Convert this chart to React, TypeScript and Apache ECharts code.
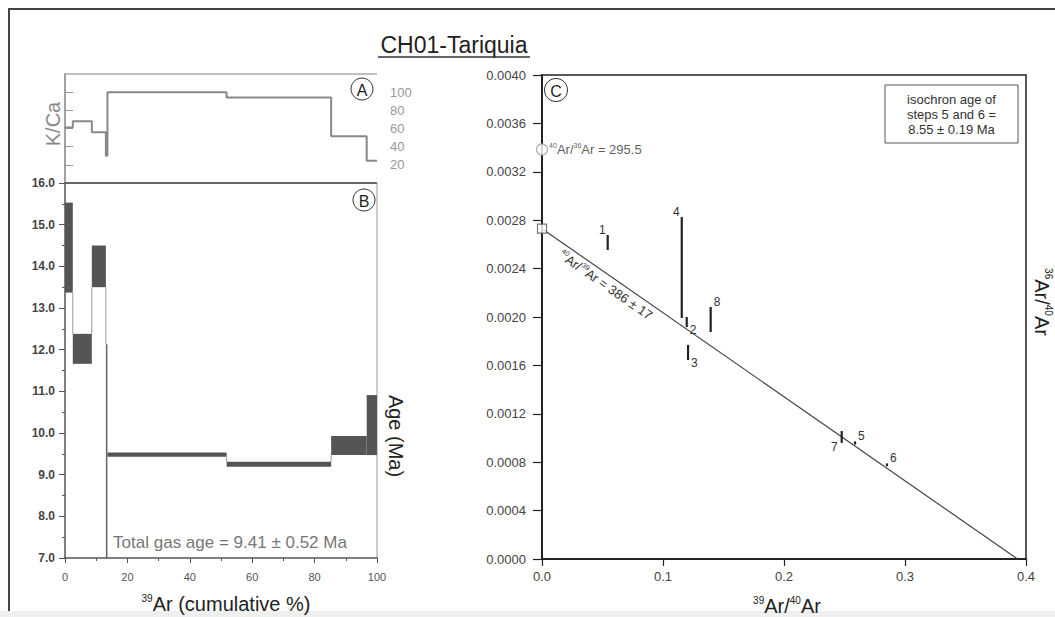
import React, { useEffect, useRef } from "react";
import * as echarts from "echarts";

// ---------- Data ----------
// Step-heating steps (cumulative 39Ar %)
const stepStart = [0, 2.5, 8.6, 13.1, 13.6, 51.8, 85.3, 96.7];
const stepEnd = [2.5, 8.6, 13.1, 13.6, 51.8, 85.3, 96.7, 100];
const stepAge = [14.45, 12.02, 14.0, 9.4, 9.48, 9.25, 9.7, 10.19];
const stepAgeErr = [1.08, 0.36, 0.5, 2.73, 0.05, 0.06, 0.23, 0.72];
const stepKCa = [61, 68, 56, 30, 100, 94, 51.5, 24.5];
const kcaTicks = [20, 40, 60, 80, 100];

// Isochron points (39Ar/40Ar, 36Ar/40Ar low/high)
const isoStep = ["1", "2", "3", "4", "5", "6", "7", "8"];
const isoX = [0.0543, 0.1196, 0.1207, 0.1155, 0.2587, 0.2851, 0.2477, 0.1394];
const isoYLow = [0.002554, 0.001917, 0.001645, 0.001992, 0.000946, 0.000766, 0.000959, 0.001876];
const isoYHigh = [0.002678, 0.002, 0.001769, 0.002826, 0.000972, 0.00079, 0.001058, 0.002083];
const isoLabelSide = ["tl", "br", "br", "tl", "tr", "tr", "bl", "tr"];

const atmRatio = 295.5;
const isochronY0 = 0.00273;
const isochronX0 = 0.393;

const FF = "'Liberation Sans', Arial, Helvetica, sans-serif";

const supRich = (base: number, sup: number, color: string) => ({
  b: { fontSize: base, fontFamily: FF, color, lineHeight: base + 2 },
  s: { fontSize: sup, fontFamily: FF, color, verticalAlign: "top" as const },
});
const gRich = (base: number, sup: number, color: string) => ({
  b: { fontSize: base, fontFamily: FF, fill: color, lineHeight: base + 2 },
  s: { fontSize: sup, fontFamily: FF, fill: color, verticalAlign: "top" as const },
});

function buildOption(): any {
  const kcaData: number[][] = [];
  stepStart.forEach((s, i) => {
    kcaData.push([s, stepKCa[i]], [stepEnd[i], stepKCa[i]]);
  });
  const spectrumData = stepStart.map((s, i) => [s, stepEnd[i], stepAge[i], stepAgeErr[i]]);
  const isoData = isoX.map((x, i) => [x, isoYLow[i], isoYHigh[i]]);

  const circleLabel = (cx: number, cy: number, r: number, t: string) => ({
    type: "group",
    children: [
      { type: "circle", shape: { cx, cy, r }, style: { fill: "#fff", stroke: "#333", lineWidth: 1 } },
      {
        type: "text",
        x: cx,
        y: cy + 1,
        style: { text: t, fontSize: 16, fontFamily: FF, fill: "#222", align: "center", verticalAlign: "middle" },
      },
    ],
  });

  return {
    animation: false,
    backgroundColor: "#fff",
    textStyle: { fontFamily: FF },
    grid: [
      { left: 65, top: 74, width: 312, height: 109 },
      { left: 65, top: 183, width: 312, height: 375 },
      { left: 542, top: 75, width: 484, height: 484 },
    ],
    xAxis: [
      { gridIndex: 0, type: "value", min: 0, max: 100, show: false },
      {
        gridIndex: 1,
        type: "value",
        min: 0,
        max: 100,
        interval: 20,
        axisLine: { show: true, lineStyle: { color: "#555", width: 1.5 } },
        axisTick: { show: true, length: 5, lineStyle: { color: "#555" } },
        minorTick: { show: true, splitNumber: 2, length: 3, lineStyle: { color: "#555" } },
        axisLabel: { color: "#555", fontSize: 11, margin: 13, fontFamily: FF },
        splitLine: { show: false },
      },
      {
        gridIndex: 2,
        type: "value",
        min: 0,
        max: 0.4,
        interval: 0.1,
        axisLine: { show: true, lineStyle: { color: "#222", width: 2 } },
        axisTick: { show: true, length: 7, lineStyle: { color: "#222", width: 1.2 } },
        axisLabel: { color: "#444", fontSize: 13, margin: 11, fontFamily: FF, formatter: (v: number) => v.toFixed(1) },
        splitLine: { show: false },
      },
    ],
    yAxis: [
      {
        gridIndex: 0,
        type: "value",
        position: "right",
        min: 0,
        max: 120,
        interval: 20,
        axisLine: { show: true, lineStyle: { color: "#999", width: 1.5 } },
        axisTick: { show: true, length: 8, customValues: kcaTicks, lineStyle: { color: "#999" } },
        axisLabel: { customValues: kcaTicks, color: "#999", fontSize: 13, margin: 13, fontFamily: FF },
        splitLine: { show: false },
      },
      {
        gridIndex: 1,
        type: "value",
        min: 7,
        max: 16,
        interval: 1,
        axisLine: { show: true, lineStyle: { color: "#555", width: 1.5 } },
        axisTick: { show: true, length: 6, lineStyle: { color: "#555" } },
        minorTick: { show: true, splitNumber: 2, length: 3, lineStyle: { color: "#555" } },
        axisLabel: {
          color: "#444",
          fontSize: 12,
          fontWeight: "bold",
          margin: 10,
          fontFamily: FF,
          formatter: (v: number) => v.toFixed(1),
        },
        splitLine: { show: false },
      },
      {
        gridIndex: 2,
        type: "value",
        min: 0,
        max: 0.004,
        interval: 0.0004,
        axisLine: { show: true, lineStyle: { color: "#222", width: 2 } },
        axisTick: { show: true, length: 9, lineStyle: { color: "#222", width: 1.2 } },
        axisLabel: { color: "#444", fontSize: 13, margin: 16, fontFamily: FF, formatter: (v: number) => v.toFixed(4) },
        splitLine: { show: false },
      },
    ],
    series: [
      {
        type: "line",
        xAxisIndex: 0,
        yAxisIndex: 0,
        data: kcaData,
        symbol: "none",
        lineStyle: { color: "#888", width: 2 },
        z: 3,
      },
      {
        type: "custom",
        xAxisIndex: 1,
        yAxisIndex: 1,
        clip: true,
        data: spectrumData,
        renderItem: (params: any, api: any) => {
          const i = params.dataIndex;
          const x0 = api.value(0);
          const x1 = api.value(1);
          const a = api.value(2);
          const e = api.value(3);
          const p0 = api.coord([x0, a + e]);
          const p1 = api.coord([x1, a - e]);
          const children: any[] = [
            {
              type: "rect",
              shape: { x: p0[0], y: p0[1], width: p1[0] - p0[0], height: p1[1] - p0[1] },
              style: { fill: i === 3 ? "#666" : "#555" },
            },
          ];
          if (i > 0) {
            const pt = stepAge[i - 1] + stepAgeErr[i - 1];
            const pb = stepAge[i - 1] - stepAgeErr[i - 1];
            const ct = a + e;
            const cb = a - e;
            let from: number | null = null;
            let to: number | null = null;
            if (ct < pb) {
              from = pb;
              to = ct;
            } else if (cb > pt) {
              from = pt;
              to = cb;
            }
            if (from !== null && to !== null) {
              const q0 = api.coord([x0, from]);
              const q1 = api.coord([x0, to]);
              children.push({
                type: "line",
                shape: { x1: q0[0], y1: q0[1], x2: q1[0], y2: q1[1] },
                style: { stroke: "#999", lineWidth: 1 },
              });
            }
          }
          return { type: "group", children };
        },
      },
      {
        type: "line",
        xAxisIndex: 2,
        yAxisIndex: 2,
        data: [
          [0, isochronY0],
          [isochronX0, 0],
        ],
        symbol: "none",
        lineStyle: { color: "#444", width: 1.2 },
        z: 2,
      },
      {
        type: "custom",
        xAxisIndex: 2,
        yAxisIndex: 2,
        data: [[isochronX0, isochronY0]],
        renderItem: (params: any, api: any) => {
          const p0 = api.coord([0, api.value(1)]);
          const p1 = api.coord([api.value(0), 0]);
          const ang = Math.atan2(p1[1] - p0[1], p1[0] - p0[0]);
          const t = 0.146;
          const off = 10;
          const cx = p0[0] + (p1[0] - p0[0]) * t - Math.sin(ang) * off;
          const cy = p0[1] + (p1[1] - p0[1]) * t + Math.cos(ang) * off;
          return {
            type: "text",
            x: cx,
            y: cy,
            rotation: -ang,
            style: {
              text: "{s|40}{b|Ar/}{s|39}{b|Ar = 386 ± 17}",
              rich: gRich(13, 7, "#333"),
              fill: "#333",
              align: "center",
              verticalAlign: "middle",
            },
          };
        },
      },
      {
        type: "custom",
        xAxisIndex: 2,
        yAxisIndex: 2,
        data: isoData,
        z: 5,
        renderItem: (params: any, api: any) => {
          const i = params.dataIndex;
          const top = api.coord([api.value(0), api.value(2)]);
          const bot = api.coord([api.value(0), api.value(1)]);
          const side = isoLabelSide[i];
          let lx = top[0];
          let ly = top[1];
          let align = "left";
          let va = "bottom";
          if (side === "tl") {
            lx = top[0] - 2;
            ly = top[1] + 1;
            align = "right";
            va = "bottom";
          } else if (side === "tr") {
            lx = top[0] + 3;
            ly = top[1] + 1;
            align = "left";
            va = "bottom";
          } else if (side === "br") {
            lx = bot[0] + 3;
            ly = bot[1] - 3;
            align = "left";
            va = "top";
          } else {
            lx = bot[0] - 4;
            ly = bot[1] - 2;
            align = "right";
            va = "top";
          }
          return {
            type: "group",
            children: [
              {
                type: "line",
                shape: { x1: top[0], y1: top[1], x2: bot[0], y2: bot[1] },
                style: { stroke: "#222", lineWidth: 2.2 },
              },
              {
                type: "text",
                x: lx,
                y: ly,
                style: { text: isoStep[i], fontSize: 12, fontFamily: FF, fill: "#333", align, verticalAlign: va },
              },
            ],
          };
        },
      },
      {
        type: "scatter",
        xAxisIndex: 2,
        yAxisIndex: 2,
        clip: false,
        data: [[0, 1 / atmRatio]],
        symbol: "circle",
        symbolSize: 11,
        itemStyle: { color: "#fff", borderColor: "#999", borderWidth: 1.2 },
        label: {
          show: true,
          position: "right",
          distance: 1,
          formatter: "{s|40}{b|Ar/}{s|36}{b|Ar = " + atmRatio.toFixed(1) + "}",
          rich: supRich(13, 7, "#333"),
        },
        z: 6,
      },
      {
        type: "scatter",
        xAxisIndex: 2,
        yAxisIndex: 2,
        clip: false,
        data: [[0, isochronY0]],
        symbol: "rect",
        symbolSize: 9,
        itemStyle: { color: "#fff", borderColor: "#555", borderWidth: 1.2 },
        z: 6,
      },
    ],
    graphic: [
      {
        type: "rect",
        shape: { x: 9, y: 9, width: 1100, height: 700 },
        style: { fill: "none", stroke: "#444", lineWidth: 2 },
        silent: true,
      },
      {
        type: "rect",
        shape: { x: 0, y: 611, width: 1055, height: 6 },
        style: { fill: "#efefef" },
        silent: true,
      },
      {
        type: "polyline",
        shape: {
          points: [
            [65, 183],
            [65, 74],
            [377, 74],
          ],
        },
        style: { fill: "none", stroke: "#aaa", lineWidth: 1.5 },
      },
      {
        type: "line",
        shape: { x1: 65, y1: 183, x2: 377, y2: 183 },
        style: { stroke: "#666", lineWidth: 2 },
      },
      {
        type: "line",
        shape: { x1: 377, y1: 183, x2: 377, y2: 558 },
        style: { stroke: "#999", lineWidth: 1 },
      },
      {
        type: "rect",
        shape: { x: 542, y: 75, width: 484, height: 484 },
        style: { fill: "none", stroke: "#222", lineWidth: 1.5 },
      },
      {
        type: "text",
        x: 454,
        y: 45,
        style: {
          text: "CH01-Tariquia",
          fontSize: 23,
          fontFamily: FF,
          fill: "#222",
          align: "center",
          verticalAlign: "middle",
        },
      },
      {
        type: "line",
        shape: { x1: 378, y1: 57, x2: 530, y2: 57 },
        style: { stroke: "#333", lineWidth: 1.3 },
      },
      {
        type: "text",
        x: 53,
        y: 124,
        rotation: Math.PI / 2,
        style: { text: "K/Ca", fontSize: 20, fontFamily: FF, fill: "#888", align: "center", verticalAlign: "middle" },
      },
      {
        type: "text",
        x: 396,
        y: 436,
        rotation: -Math.PI / 2,
        style: { text: "Age (Ma)", fontSize: 20, fontFamily: FF, fill: "#222", align: "center", verticalAlign: "middle" },
      },
      {
        type: "text",
        x: 230,
        y: 542,
        style: {
          text: "Total gas age = 9.41 ± 0.52 Ma",
          fontSize: 17,
          fontFamily: FF,
          fill: "#777",
          align: "center",
          verticalAlign: "middle",
        },
      },
      {
        type: "text",
        x: 226,
        y: 604,
        style: {
          text: "{s|39}{b|Ar (cumulative %)}",
          rich: gRich(20, 10, "#222"),
          align: "center",
          verticalAlign: "middle",
        },
      },
      {
        type: "text",
        x: 787,
        y: 606,
        style: {
          text: "{s|39}{b|Ar/}{s|40}{b|Ar}",
          rich: gRich(20, 10, "#222"),
          align: "center",
          verticalAlign: "middle",
        },
      },
      {
        type: "text",
        x: 1042,
        y: 302,
        rotation: -Math.PI / 2,
        style: {
          text: "{s|36}{b|Ar/}{s|40}{b|Ar}",
          rich: gRich(20, 10, "#222"),
          align: "center",
          verticalAlign: "middle",
        },
      },
      circleLabel(362, 89, 11, "A"),
      circleLabel(364, 200, 11, "B"),
      circleLabel(556, 90, 11.5, "C"),
      {
        type: "rect",
        shape: { x: 885, y: 85, width: 133, height: 58 },
        style: { fill: "#fff", stroke: "#555", lineWidth: 1 },
      },
      {
        type: "text",
        x: 951.5,
        y: 114,
        style: {
          text: "isochron age of\nsteps 5 and 6 =\n8.55 ± 0.19 Ma",
          fontSize: 13,
          lineHeight: 15,
          fontFamily: FF,
          fill: "#333",
          align: "center",
          verticalAlign: "middle",
        },
      },
    ],
  };
}

export default function App() {
  const ref = useRef<HTMLDivElement>(null);
  useEffect(() => {
    if (!ref.current) return;
    const chart = echarts.init(ref.current, null, { renderer: "svg" });
    chart.setOption(buildOption());
    return () => chart.dispose();
  }, []);
  return (
    <div
      ref={ref}
      style={{ position: "fixed", left: 0, top: 0, width: 1055, height: 617, background: "#fff" }}
    />
  );
}
